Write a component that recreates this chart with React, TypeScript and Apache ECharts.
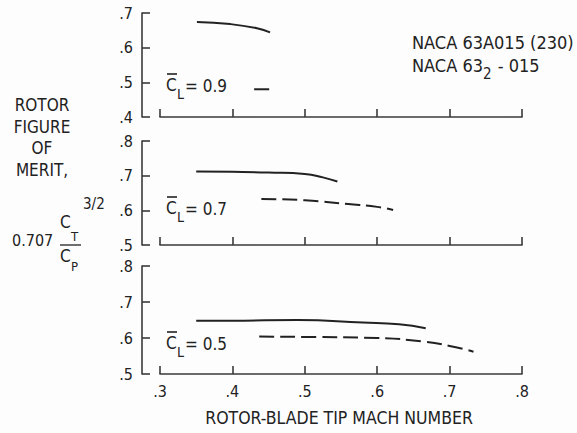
import React, { useEffect, useRef } from "react";
import * as echarts from "echarts";

// ---- data (rotor-blade tip Mach number vs figure of merit) ----
const machTopSolid = [0.351, 0.397, 0.434, 0.452];
const fomTopSolid = [0.674, 0.668, 0.656, 0.644];
const machTopDashed = [0.43, 0.452];
const fomTopDashed = [0.48, 0.48];

const machMidSolid = [0.35, 0.4, 0.45, 0.5, 0.525, 0.545];
const fomMidSolid = [0.712, 0.711, 0.709, 0.705, 0.695, 0.683];
const machMidDashed = [0.44, 0.5, 0.56, 0.6, 0.622];
const fomMidDashed = [0.633, 0.629, 0.618, 0.61, 0.601];

const machBotSolid = [0.35, 0.4, 0.49, 0.58, 0.63, 0.667];
const fomBotSolid = [0.648, 0.648, 0.65, 0.643, 0.638, 0.627];
const machBotDashed = [0.437, 0.5, 0.6, 0.664, 0.7, 0.733];
const fomBotDashed = [0.604, 0.603, 0.6, 0.59, 0.578, 0.562];

const panelCL = ["0.9", "0.7", "0.5"];
const xTitle = "ROTOR-BLADE TIP MACH NUMBER";
const yTitleLines = ["ROTOR", "FIGURE", "OF", "MERIT,"];
const legendLines = ["NACA 63A015 (230)", "NACA 63", "2", " - 015"];

const FONT = "'DejaVu Sans Condensed', 'Liberation Sans Narrow', 'DejaVu Sans', sans-serif";
const INK = "#222";
const AXIS = "#3a3a3a";

const zip = (xs: number[], ys: number[]) => xs.map((x, i) => [x, ys[i]]);
const fmt = (v: number) => v.toFixed(1).replace(/^0/, "");

function measure(text: string, size: number): number {
  const c = document.createElement("canvas").getContext("2d");
  if (!c) return text.length * size * 0.55;
  c.font = `${size}px ${FONT}`;
  return c.measureText(text).width;
}

export default function App() {
  const ref = useRef<HTMLDivElement>(null);
  useEffect(() => {
    if (!ref.current) return;
    const chart = echarts.init(ref.current, null, { renderer: "svg" });

    const grids = [
      { left: 160, width: 362, top: 13, height: 104 },
      { left: 160, width: 362, top: 141, height: 104 },
      { left: 160, width: 362, top: 266, height: 108 },
    ];
    const yRanges = [
      [0.4, 0.7],
      [0.5, 0.8],
      [0.5, 0.8],
    ];

    const xAxis = grids.map((_, i) => ({
      type: "value",
      gridIndex: i,
      min: 0.3,
      max: 0.8,
      interval: 0.1,
      axisLine: { show: true, lineStyle: { color: AXIS, width: 1.6 } },
      axisTick: { show: true, inside: true, length: 8, lineStyle: { color: AXIS, width: 1.6 } },
      splitLine: { show: false },
      axisLabel: {
        show: i === 2,
        formatter: fmt,
        color: INK,
        fontFamily: FONT,
        fontSize: 16,
        margin: 9,
      },
    }));

    const yAxis = grids.map((_, i) => ({
      type: "value",
      gridIndex: i,
      min: yRanges[i][0],
      max: yRanges[i][1],
      interval: 0.1,
      offset: 18,
      axisLine: { show: true, lineStyle: { color: AXIS, width: 1.6 } },
      axisTick: { show: true, inside: true, length: 8, lineStyle: { color: AXIS, width: 1.6 } },
      splitLine: { show: false },
      axisLabel: {
        formatter: fmt,
        color: INK,
        fontFamily: FONT,
        fontSize: 16,
        margin: 9,
      },
    }));

    const line = (i: number, data: number[][], dashed: boolean) => ({
      type: "line",
      xAxisIndex: i,
      yAxisIndex: i,
      data,
      smooth: true,
      showSymbol: false,
      symbol: "none",
      lineStyle: { color: INK, width: 2, type: dashed ? [15, 6] : "solid" },
    });

    const series = [
      line(0, zip(machTopSolid, fomTopSolid), false),
      line(0, zip(machTopDashed, fomTopDashed), true),
      line(1, zip(machMidSolid, fomMidSolid), false),
      line(1, zip(machMidDashed, fomMidDashed), true),
      line(2, zip(machBotSolid, fomBotSolid), false),
      line(2, zip(machBotDashed, fomBotDashed), true),
    ];

    const txt = (text: string, x: number, y: number, size: number, align = "left") => ({
      type: "text",
      x,
      y,
      style: {
        text,
        fill: INK,
        font: `${size}px ${FONT}`,
        textAlign: align,
        textVerticalAlign: "middle",
      },
    });

    const clCenters = [85, 208, 343];
    const graphics: any[] = [];
    clCenters.forEach((cy, i) => {
      graphics.push(txt("C", 166, cy, 17));
      graphics.push({
        type: "line",
        shape: { x1: 167, y1: cy - 11, x2: 177, y2: cy - 11 },
        style: { stroke: INK, lineWidth: 1.6 },
      });
      graphics.push(txt("L", 177, cy + 9, 14));
      graphics.push(txt("= " + panelCL[i], 185, cy + 1, 17));
    });

    // y title
    const yTitleY = [105, 127, 148, 170];
    yTitleY.forEach((y, i) => graphics.push(txt(yTitleLines[i], 42, y, 17, "center")));
    graphics.push(txt("0.707", 12, 240, 16));
    graphics.push(txt("C", 60, 222, 17));
    graphics.push(txt("T", 71, 236, 13));
    graphics.push(txt("3/2", 83, 204, 15));
    graphics.push({
      type: "line",
      shape: { x1: 60, y1: 245, x2: 81, y2: 245 },
      style: { stroke: INK, lineWidth: 1.3 },
    });
    graphics.push(txt("C", 60, 256, 17));
    graphics.push(txt("P", 71, 266, 13));

    // legend text
    const legSize = 18;
    graphics.push(txt(legendLines[0], 412, 42, legSize));
    graphics.push(txt(legendLines[1], 412, 65, legSize));
    const w1 = measure(legendLines[1], legSize);
    graphics.push(txt(legendLines[2], 412 + w1, 74, 15));
    const w2 = measure(legendLines[2], 15);
    graphics.push(txt(legendLines[3], 412 + w1 + w2 + 1, 65, legSize));

    // x title
    graphics.push(txt(xTitle, 339, 418, 17.5, "center"));

    chart.setOption({
      animation: false,
      backgroundColor: "#fdfdfd",
      grid: grids,
      xAxis,
      yAxis,
      series,
      graphic: graphics,
    });
    return () => chart.dispose();
  }, []);

  return (
    <div
      ref={ref}
      style={{ position: "fixed", left: 0, top: 0, width: 577, height: 433 }}
    />
  );
}
